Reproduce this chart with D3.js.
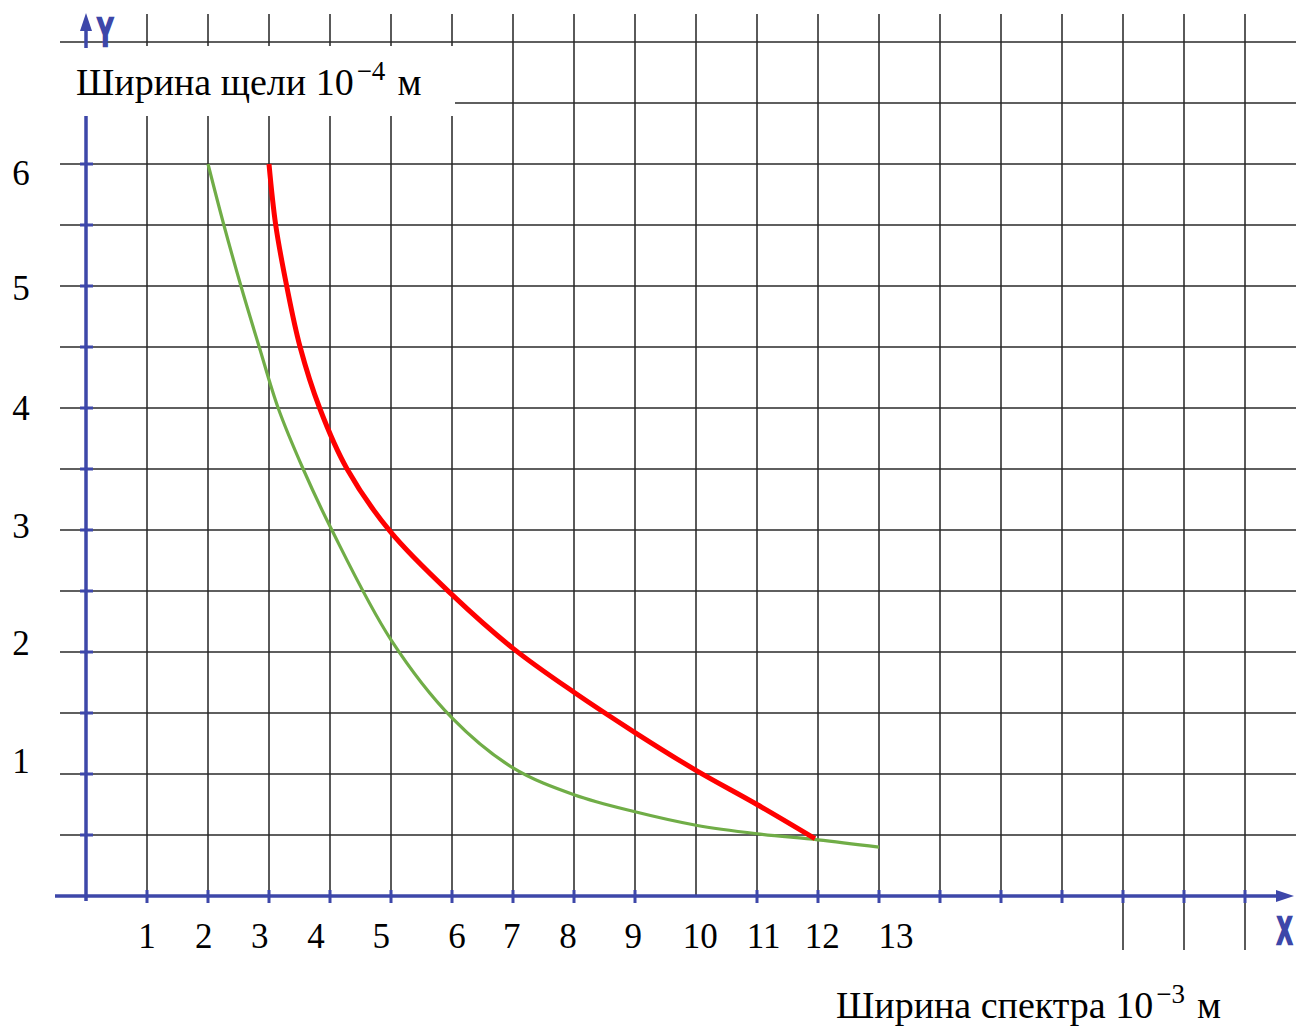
<!DOCTYPE html>
<html><head><meta charset="utf-8">
<script src="https://cdn.jsdelivr.net/npm/d3@7"></script>
<style>body{margin:0;background:#fff}svg{display:block}</style>
</head><body>
<svg id="c" width="1296" height="1026"></svg>
<script>
// ---- data ----
const redX = [3, 3.11, 3.29, 3.51, 3.83, 4.28, 5, 6, 7, 8, 9, 10, 11, 11.95];
const redY = [6, 5.5, 5, 4.5, 4, 3.5, 2.98, 2.47, 2.03, 1.67, 1.34, 1.03, 0.75, 0.47];
const greenX = [2, 2.26, 2.54, 2.84, 3.15, 3.56, 4.03, 5, 6, 7, 8, 9, 10, 11, 12, 13];
const greenY = [6, 5.5, 5, 4.5, 4, 3.5, 3.0, 2.1, 1.46, 1.05, 0.83, 0.69, 0.58, 0.51, 0.46, 0.40];
const xTickLabels = ["1","2","3","4","5","6","7","8","9","10","11","12","13"];
const xTickLabelAt = [1.0, 1.93, 2.85, 3.77, 4.84, 6.08, 6.98, 7.9, 8.97, 10.07, 11.11, 12.07, 13.28];
const yTickLabels = ["1","2","3","4","5","6"];
const yTickLabelAt = [1.11, 2.07, 3.03, 4.0, 4.98, 5.93];
const yTitle = ["Ширина щели 10", "−4", "м"];
const xTitle = ["Ширина спектра 10", "−3", "м"];

// ---- scales ----
const x = d3.scaleLinear().domain([0, 19]).range([86, 1245]);
const y = d3.scaleLinear().domain([0, 6]).range([896, 164]);
const svg = d3.select("#c");
const blue = "#3d47a9";
const serif = "'Liberation Serif','Times New Roman',serif";

// vertical grid
const vx = d3.range(1, 20);
svg.append("g").selectAll("line").data(vx).join("line")
  .attr("x1", d => x(d)).attr("x2", d => x(d))
  .attr("y1", 14).attr("y2", d => d >= 17 ? 950 : 896)
  .attr("stroke", "#5a5a5a").attr("stroke-width", 2);
// horizontal grid
const hy = d3.range(0.5, 7.01, 0.5);
svg.append("g").selectAll("line").data(hy).join("line")
  .attr("x1", 60).attr("x2", 1296)
  .attr("y1", d => y(d)).attr("y2", d => y(d))
  .attr("stroke", "#2a2a2a").attr("stroke-width", 1.6);

// white title box
svg.append("rect").attr("x", 56).attr("y", 46).attr("width", 399).attr("height", 70).attr("fill", "#fff");

// y axis
svg.append("line").attr("x1", x(0)).attr("x2", x(0)).attr("y1", 116).attr("y2", 901)
  .attr("stroke", blue).attr("stroke-width", 3.5);
svg.append("line").attr("x1", x(0)).attr("x2", x(0)).attr("y1", 26).attr("y2", 48)
  .attr("stroke", blue).attr("stroke-width", 3.5);
svg.append("path").attr("d", `M${x(0)},13 L${x(0)-6},31 L${x(0)+6},31 Z`).attr("fill", blue);
svg.append("g").attr("transform", "translate(97,46) scale(0.62,1)")
  .append("text").attr("fill", blue).attr("stroke", blue).attr("stroke-width", 2.5)
  .attr("font-family", "'Liberation Sans',Arial,sans-serif").attr("font-weight", "bold")
  .attr("font-size", 40).text("Y");
// y ticks
svg.append("g").selectAll("line").data(d3.range(0.5, 6.01, 0.5)).join("line")
  .attr("x1", x(0) - 6).attr("x2", x(0) + 7)
  .attr("y1", d => y(d)).attr("y2", d => y(d))
  .attr("stroke", blue).attr("stroke-width", 3);

// x axis
svg.append("line").attr("x1", 55).attr("x2", 1280).attr("y1", y(0)).attr("y2", y(0))
  .attr("stroke", blue).attr("stroke-width", 3.5);
svg.append("path").attr("d", `M1294,${y(0)} L1276,${y(0)-6} L1276,${y(0)+6} Z`).attr("fill", blue);
svg.append("g").attr("transform", "translate(1277,944) scale(0.6,1)")
  .append("text").attr("fill", blue).attr("stroke", blue).attr("stroke-width", 2.5)
  .attr("font-family", "'Liberation Sans',Arial,sans-serif").attr("font-weight", "bold")
  .attr("font-size", 38).text("X");
svg.append("g").selectAll("line").data(d3.range(1, 20).filter(d => d !== 10)).join("line")
  .attr("x1", d => x(d)).attr("x2", d => x(d))
  .attr("y1", y(0) - 6).attr("y2", y(0) + 7)
  .attr("stroke", blue).attr("stroke-width", 3);

// curves
const line = d3.line().x(d => x(d[0])).y(d => y(d[1])).curve(d3.curveCatmullRom.alpha(0.5));
svg.append("path").datum(greenX.map((v, i) => [v, greenY[i]]))
  .attr("d", line).attr("fill", "none").attr("stroke", "#70ad47").attr("stroke-width", 3.2);
svg.append("path").datum(redX.map((v, i) => [v, redY[i]]))
  .attr("d", line).attr("fill", "none").attr("stroke", "#ff0000").attr("stroke-width", 5);

// tick labels
svg.append("g").selectAll("text").data(xTickLabels).join("text")
  .attr("x", (d, i) => x(xTickLabelAt[i])).attr("y", 948)
  .attr("text-anchor", "middle").attr("font-family", serif).attr("font-size", 35)
  .attr("fill", "#000").text(d => d);
svg.append("g").selectAll("text").data(yTickLabels).join("text")
  .attr("x", 21).attr("y", (d, i) => y(yTickLabelAt[i]) + 12)
  .attr("text-anchor", "middle").attr("font-family", serif).attr("font-size", 35)
  .attr("fill", "#000").text(d => d);

// titles
function title(parts, tx, ty) {
  const t = svg.append("text").attr("x", tx).attr("y", ty)
    .attr("font-family", serif).attr("font-size", 38).attr("fill", "#000");
  t.append("tspan").text(parts[0]);
  t.append("tspan").attr("dx", 3).attr("dy", -15).attr("font-size", 27).text(parts[1]);
  t.append("tspan").attr("dx", 12).attr("dy", 15).text(parts[2]);
}
title(yTitle, 76, 95);
title(xTitle, 836, 1018);
</script>
</body></html>
